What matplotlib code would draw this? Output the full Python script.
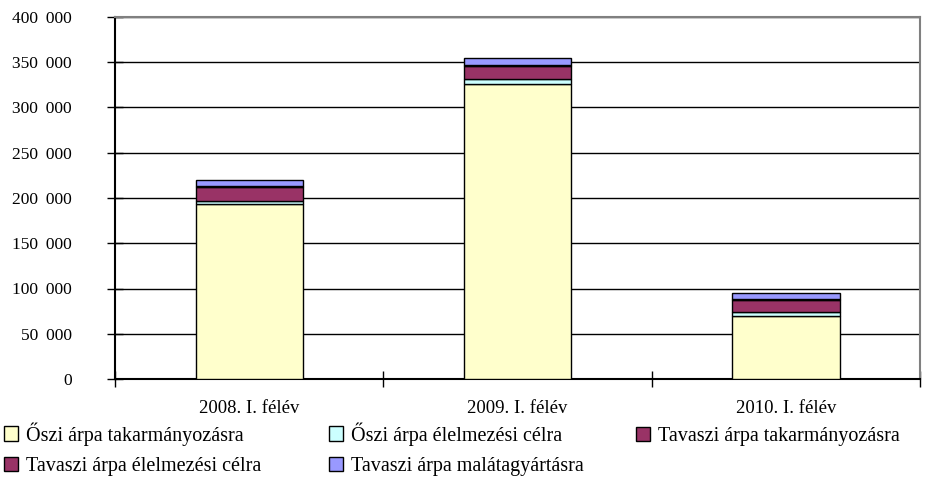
import matplotlib.pyplot as plt
import numpy as np
from matplotlib.ticker import FuncFormatter

plt.rcParams['font.family'] = ['Liberation Serif', 'DejaVu Serif']

# data
periods = ['2008. I. félév', '2009. I. félév', '2010. I. félév']
series_names = ['Őszi árpa takarmányozásra', 'Őszi árpa élelmezési célra',
                'Tavaszi árpa takarmányozásra', 'Tavaszi árpa élelmezési célra',
                'Tavaszi árpa malátagyártásra']
oszi_tak = [193000, 326000, 70000]
oszi_elelm = [3300, 5000, 4400]
tavaszi_tak = [16000, 15000, 13000]
tavaszi_elelm = [1200, 1500, 1000]
tavaszi_malata = [6500, 7500, 6500]
colors = ['#FFFFCC', '#CCFFFF', '#993366', '#993366', '#9999FF']

values = [oszi_tak, oszi_elelm, tavaszi_tak, tavaszi_elelm, tavaszi_malata]

fig = plt.figure(figsize=(9.38, 4.79), dpi=100)
ax = fig.add_axes([115 / 938, 1 - 379 / 479, (920 - 115) / 938, (379 - 17) / 479])

x = np.arange(len(periods))
bottom = np.zeros(len(periods))
handles = []
for name, vals, c in zip(series_names, values, colors):
    b = ax.bar(x, vals, 0.4, bottom=bottom, color=c, edgecolor='black',
               linewidth=1, label=name, zorder=3)
    handles.append(b)
    bottom += np.array(vals)

ax.set_xlim(-0.5, 2.5)
ax.set_ylim(0, 400000)
ax.set_yticks(np.arange(0, 400001, 50000))
ax.yaxis.set_major_formatter(FuncFormatter(lambda v, p: f'{int(v):,}'.replace(',', ' \u2009')))
ax.yaxis.grid(True, color='black', linewidth=1, zorder=0)
ax.tick_params(axis='y', direction='inout', length=12, width=1, labelsize=12.5, pad=25)

ax.set_xticks(x)
ax.set_xticklabels(periods)
ax.set_xticks([-0.5, 0.5, 1.5, 2.5], minor=True)
ax.tick_params(axis='x', which='major', length=0, labelsize=13.5, pad=15)
ax.tick_params(axis='x', which='minor', direction='inout', length=12, width=1)

ax.spines['left'].set_color('black')
ax.spines['bottom'].set_color('black')
ax.spines['top'].set_color('#808080')
ax.spines['right'].set_color('#808080')
for s in ax.spines.values():
    s.set_linewidth(1.5)

# legend: three columns placed like the original
columns = [[0, 3], [1, 4], [2]]
col_x = [4, 329, 636]
col_y = [422, 422, 427]
for idx, cx, cy in zip(columns, col_x, col_y):
    fig.legend([handles[i] for i in idx], [series_names[i] for i in idx],
               loc='upper left', bbox_to_anchor=(cx / 938, 1 - cy / 479),
               frameon=False, fontsize=14.5, handlelength=0.7, handleheight=0.7,
               handletextpad=0.4, labelspacing=0.55,
               borderaxespad=0.0, borderpad=0.0)

fig.savefig('out.png', dpi=100)
